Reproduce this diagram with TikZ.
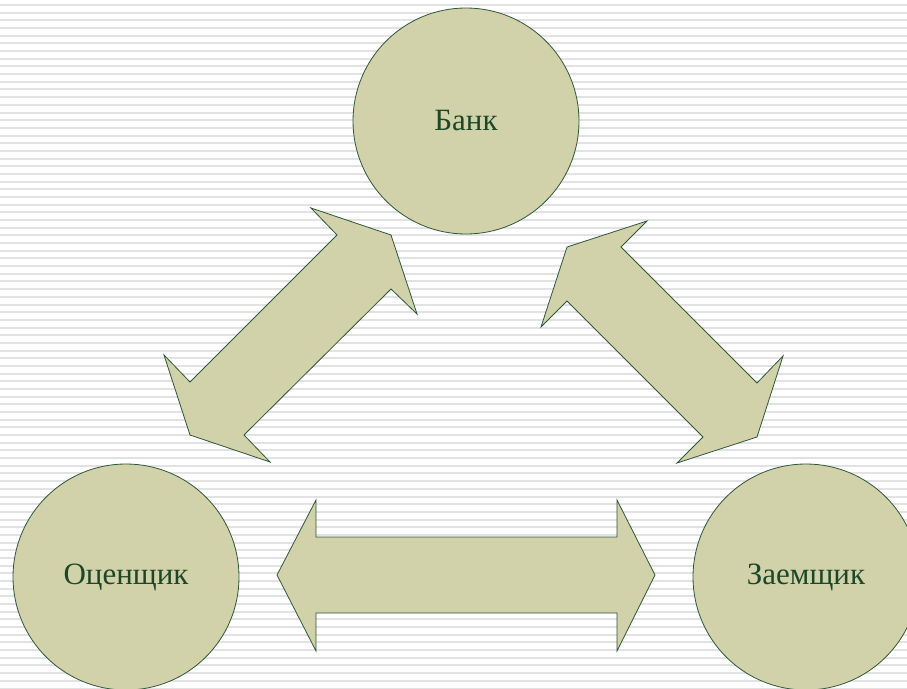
\documentclass[tikz,border=0pt]{standalone}
\usepackage{fontspec}
\setmainfont{Liberation Serif}
\definecolor{fillc}{RGB}{209,209,170}
\definecolor{linec}{RGB}{46,88,58}
\definecolor{textc}{RGB}{28,72,40}
\definecolor{stripec}{RGB}{226,226,226}
\begin{document}
\begin{tikzpicture}[x=1pt,y=-1pt,
  party/.style={circle,draw=linec,fill=fillc,line width=0.8pt,minimum size=226pt,inner sep=0pt,
    text=textc,font=\fontsize{31}{34}\selectfont},
  blockarrow/.style={draw=linec,fill=fillc,line width=0.8pt,line join=miter}]
\useasboundingbox (0,0) rectangle (907,688);
\fill[white] (0,0) rectangle (907,688);
\foreach \i in {0,...,89}{
  \fill[stripec] (0,{4+7.68*\i}) rectangle (907,{6+7.68*\i});
}
\node[party] (bank) at (466,121) {Банк};
\node[party] (appr) at (126,577) {Оценщик};
\node[party] (borr) at (806,577) {Заемщик};
% left diagonal double arrow (Bank - Оценщик)
\draw[blockarrow] (391,235) -- (417,314) -- (391,289) -- (244,435) -- (270,462) -- (190,435)
  -- (164,355) -- (190,382) -- (337,235) -- (311,208) -- cycle;
% right diagonal double arrow (Bank - Заемщик)
\draw[blockarrow] (567,247) -- (647,221) -- (621,247) -- (757,383) -- (783,356) -- (757,437)
  -- (677,463) -- (703,437) -- (567,301) -- (541,327) -- cycle;
% horizontal double arrow (Оценщик - Заемщик)
\draw[blockarrow] (277,575) -- (316,500) -- (316,537) -- (617,537) -- (617,500) -- (655,575)
  -- (617,651) -- (617,613) -- (316,613) -- (316,651) -- cycle;
\end{tikzpicture}
\end{document}
